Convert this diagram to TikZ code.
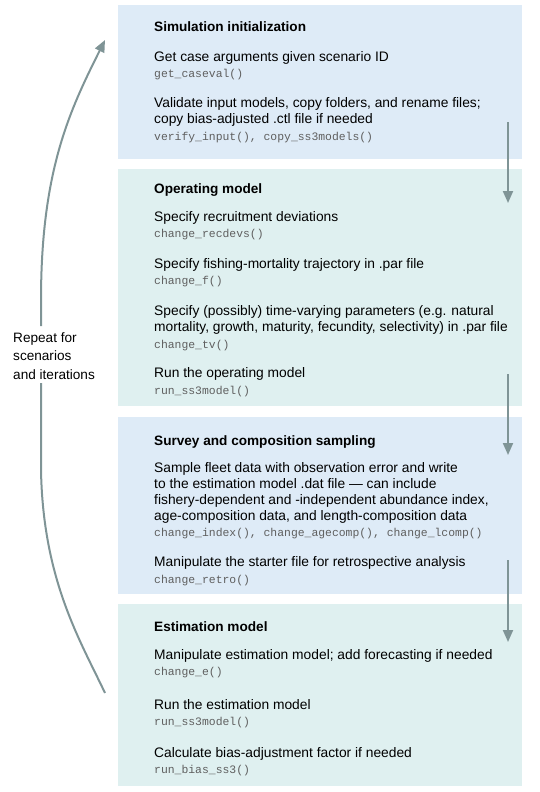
\documentclass[tikz,border=0pt]{standalone}
\usepackage{fontspec}
\setmainfont{Liberation Sans}
\newfontfamily\codefont{Liberation Mono}
\usetikzlibrary{arrows.meta}
\definecolor{boxblue}{RGB}{222,235,247}
\definecolor{boxteal}{RGB}{223,240,240}
\definecolor{arrowgray}{RGB}{127,148,150}
\definecolor{codegray}{RGB}{95,95,95}
\begin{document}
\begin{tikzpicture}[x=1pt,y=-1pt,
  panel/.style={draw=none, inner sep=0pt, minimum width=404pt},
  ttl/.style={anchor=mid west, inner sep=0pt, yshift=-2.5pt, font=\fontsize{13.6}{16}\selectfont\bfseries},
  body/.style={anchor=mid west, inner sep=0pt, yshift=-2.5pt, font=\fontsize{13.8}{16}\selectfont},
  code/.style={anchor=mid west, inner sep=0pt, yshift=-1pt, font=\fontsize{11.4}{14}\codefont, text=codegray},
  flow/.style={draw=arrowgray, line width=2pt, -{Triangle[width=10pt,length=12pt]}},
  loopline/.style={draw=arrowgray, line width=2pt}]
\useasboundingbox (0,0) rectangle (540,792);
% panels
\node[panel, fill=boxblue, minimum height=154pt] (sim) at (320,82) {};
\node[panel, fill=boxteal, minimum height=237pt] (om) at (320,287.5) {};
\node[panel, fill=boxblue, minimum height=177pt] (sv) at (320,505.5) {};
\node[panel, fill=boxteal, minimum height=182pt] (em) at (320,695) {};
% box 1
\node[ttl] (t1) at (154,26) {Simulation initialization};
\node[body] (s1a) at (154,56) {Get case arguments given scenario ID};
\node[code] (c1a) at (154,74) {get\_caseval()};
\node[body] (s1b) at (154,102) {Validate input models, copy folders, and rename files;};
\node[body] (s1b2) at (154,118) {copy bias-adjusted .ctl file if needed};
\node[code] (c1b) at (154,137) {verify\_input(), copy\_ss3models()};
% box 2
\node[ttl] (t2) at (154,188) {Operating model};
\node[body] (s2a) at (154,216) {Specify recruitment deviations};
\node[code] (c2a) at (154,234) {change\_recdevs()};
\node[body] (s2b) at (154,263) {Specify fishing-mortality trajectory in .par file};
\node[code] (c2b) at (154,281) {change\_f()};
\node[body] (s2c) at (154,310) {Specify (possibly) time-varying parameters (e.g. natural};
\node[body] (s2c2) at (154,326) {mortality, growth, maturity, fecundity, selectivity) in .par file};
\node[code] (c2c) at (154,345) {change\_tv()};
\node[body] (s2d) at (154,372) {Run the operating model};
\node[code] (c2d) at (154,391) {run\_ss3model()};
% box 3
\node[ttl] (t3) at (154,440) {Survey and composition sampling};
\node[body] (s3a) at (154,467) {Sample fleet data with observation error and write};
\node[body] (s3a2) at (154,483) {to the estimation model .dat file — can include};
\node[body] (s3a3) at (154,499) {fishery-dependent and -independent abundance index,};
\node[body] (s3a4) at (154,515) {age-composition data, and length-composition data};
\node[code] (c3a) at (154,533) {change\_index(), change\_agecomp(), change\_lcomp()};
\node[body] (s3b) at (154,561) {Manipulate the starter file for retrospective analysis};
\node[code] (c3b) at (154,580) {change\_retro()};
% box 4
\node[ttl] (t4) at (154,626) {Estimation model};
\node[body] (s4a) at (154,654) {Manipulate estimation model; add forecasting if needed};
\node[code] (c4a) at (154,672) {change\_e()};
\node[body] (s4b) at (154,704) {Run the estimation model};
\node[code] (c4b) at (154,722) {run\_ss3model()};
\node[body] (s4c) at (154,752) {Calculate bias-adjustment factor if needed};
\node[code] (c4c) at (154,770) {run\_bias\_ss3()};
% right-hand flow arrows
\coordinate (a1s) at (508,122);
\coordinate (a1e) at (508,203);
\coordinate (a2s) at (508,374);
\coordinate (a2e) at (508,455);
\coordinate (a3s) at (508,560);
\coordinate (a3e) at (508,642);
\draw[flow] (a1s) -- (a1e);
\draw[flow] (a2s) -- (a2e);
\draw[flow] (a3s) -- (a3e);
% loop back
\node[anchor=west, inner sep=0pt, align=left, font=\fontsize{13.6}{18.5}\selectfont] (rep) at (13,356) {Repeat for\\scenarios\\and iterations};
\coordinate (loopfoot) at (105,693);
\coordinate (loophead) at (105,40);
\coordinate (gapbot) at (41,383);
\coordinate (gaptop) at (41,326);
\draw[loopline] (loopfoot) .. controls (80,640) and (43,580) .. (41,470) -- (gapbot);
\draw[flow] (gaptop) -- (41,300) .. controls (41,170) and (70,110) .. (loophead);
\end{tikzpicture}
\end{document}
